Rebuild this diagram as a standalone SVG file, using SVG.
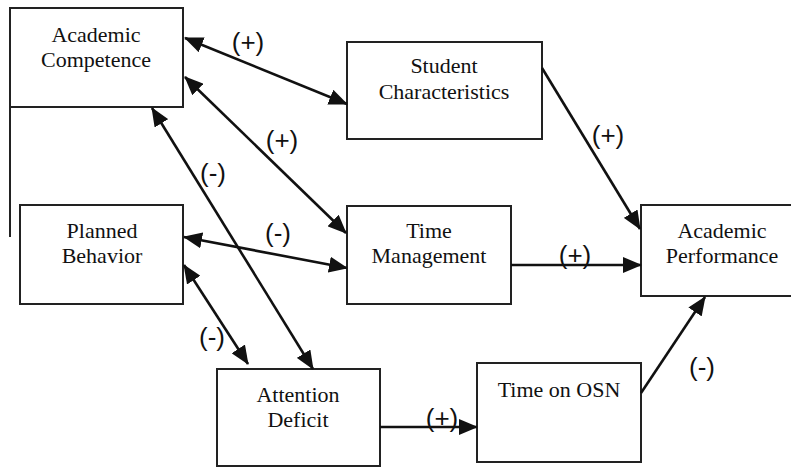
<svg xmlns="http://www.w3.org/2000/svg" width="791" height="467" viewBox="0 0 791 467">
<defs>
<style>
.box{fill:#fff;stroke:#222;stroke-width:2}
.t{font-family:'Liberation Serif','Times New Roman',serif;font-size:22px;fill:#111;text-anchor:middle}
.lbl{font-family:'Liberation Sans',Arial,sans-serif;font-size:26px;fill:#111;text-anchor:middle}
.c{stroke:#111;stroke-width:2.6;fill:none}
</style>
<marker id="ah" viewBox="0 0 19 16" refX="18" refY="8" markerWidth="19" markerHeight="16" markerUnits="userSpaceOnUse" orient="auto-start-reverse">
<path d="M0,0 L19,8 L0,16 z" fill="#111"/>
</marker>
</defs>
<rect width="791" height="467" fill="#fff"/>
<g id="academic-competence">
<rect class="box" x="10" y="8" width="173" height="99"/>
<line x1="10" y1="107" x2="10" y2="237" stroke="#222" stroke-width="2"/>
<text class="t" x="96" y="42">Academic</text>
<text class="t" x="96" y="67">Competence</text>
</g>
<g id="student-characteristics">
<rect class="box" x="347" y="42" width="195" height="97"/>
<text class="t" x="444" y="73">Student</text>
<text class="t" x="444" y="99">Characteristics</text>
</g>
<g id="planned-behavior">
<rect class="box" x="20" y="205" width="163" height="99"/>
<text class="t" x="102" y="238">Planned</text>
<text class="t" x="102" y="263">Behavior</text>
</g>
<g id="time-management">
<rect class="box" x="347" y="206" width="164" height="98"/>
<text class="t" x="429" y="238">Time</text>
<text class="t" x="429" y="263">Management</text>
</g>
<g id="academic-performance">
<rect class="box" x="641" y="205" width="162" height="91"/>
<text class="t" x="722" y="238">Academic</text>
<text class="t" x="722" y="263">Performance</text>
</g>
<g id="attention-deficit">
<rect class="box" x="217" y="369" width="163" height="97"/>
<text class="t" x="298" y="402">Attention</text>
<text class="t" x="298" y="427">Deficit</text>
</g>
<g id="time-on-osn">
<rect class="box" x="477" y="363" width="164" height="99"/>
<text class="t" x="559" y="397">Time on OSN</text>
</g>
<g id="connectors">
<line class="c" x1="185" y1="38" x2="347" y2="104" marker-start="url(#ah)" marker-end="url(#ah)"/>
<line class="c" x1="185" y1="77" x2="346" y2="233" marker-start="url(#ah)" marker-end="url(#ah)"/>
<line class="c" x1="152" y1="108" x2="313" y2="369" marker-start="url(#ah)" marker-end="url(#ah)"/>
<line class="c" x1="184" y1="237" x2="347" y2="268" marker-start="url(#ah)" marker-end="url(#ah)"/>
<line class="c" x1="184" y1="265" x2="248" y2="364" marker-start="url(#ah)" marker-end="url(#ah)"/>
<line class="c" x1="542" y1="68" x2="640" y2="229" marker-end="url(#ah)"/>
<line class="c" x1="511" y1="265" x2="641" y2="265" marker-end="url(#ah)"/>
<line class="c" x1="380" y1="427" x2="477" y2="427" marker-end="url(#ah)"/>
<line class="c" x1="641" y1="393" x2="705" y2="297" marker-end="url(#ah)"/>
<text class="lbl" x="248" y="51">(+)</text>
<text class="lbl" x="282" y="149">(+)</text>
<text class="lbl" x="213" y="182">(-)</text>
<text class="lbl" x="278" y="242">(-)</text>
<text class="lbl" x="212" y="346">(-)</text>
<text class="lbl" x="608" y="144">(+)</text>
<text class="lbl" x="575" y="264">(+)</text>
<text class="lbl" x="442" y="427">(+)</text>
<text class="lbl" x="702" y="376">(-)</text>
</g>
</svg>
